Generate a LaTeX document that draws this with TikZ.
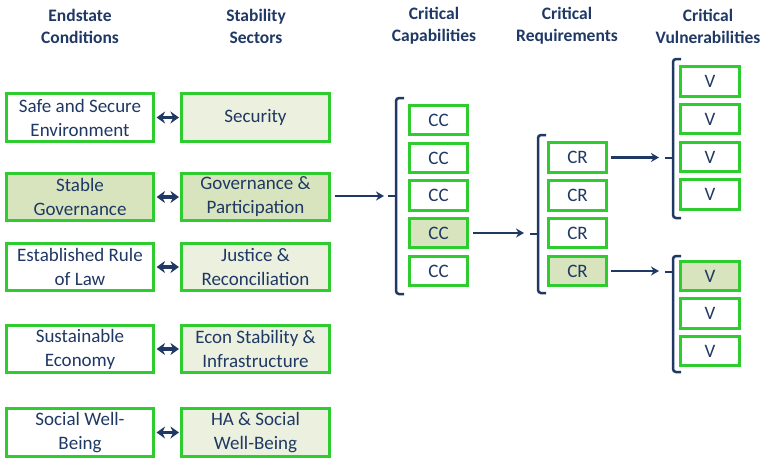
\documentclass[tikz,border=0pt]{standalone}
\usepackage{fontspec}
\setmainfont{Carlito}
\usetikzlibrary{arrows.meta}
\definecolor{navy}{HTML}{1F3864}
\definecolor{bgreen}{HTML}{2ECC2E}
\definecolor{lfill}{HTML}{EBF1DE}
\definecolor{dfill}{HTML}{D7E4BD}
\begin{document}
\begin{tikzpicture}[x=1pt,y=-1pt,
 box/.style={draw=bgreen, line width=2.6pt, fill=white, text=navy, font=\fontsize{19}{24}\selectfont, align=center, inner sep=0pt},
 wide/.style={box, minimum width=147.5pt, minimum height=47.5pt},
 small/.style={box, minimum width=58.5pt, minimum height=29.5pt},
 hdr/.style={text=navy, font=\bfseries\fontsize{17.5}{22}\selectfont, align=center},
 dbl/.style={draw=navy, line width=3.4pt, shorten <=1.5pt, shorten >=1.5pt, {Stealth[length=8.5pt,width=12pt]}-{Stealth[length=8.5pt,width=12pt]}},
 arr/.style={draw=navy, line width=2.5pt, -{Stealth[length=8pt,width=9pt]}},
 brk/.style={draw=navy, line width=2.5pt, rounded corners=3pt}]
\useasboundingbox (0,0) rectangle (763,459);
% headers
\node[hdr] (h1) at (80,26) {Endstate\\Conditions};
\node[hdr] (h2) at (256,26) {Stability\\Sectors};
\node[hdr] (h3) at (434,26) {Critical\\Capabilities};
\node[hdr] (h4) at (567,26) {Critical\\Requirements};
\node[hdr] (h5) at (708,26) {Critical\\Vulnerabilities};
% endstate conditions
\node[wide] (e1) at (80,117.5) {Safe and Secure\\Environment};
\node[wide, fill=dfill] (e2) at (80,197) {Stable\\Governance};
\node[wide] (e3) at (80,267) {Established Rule\\of Law};
\node[wide] (e4) at (80,349) {Sustainable\\Economy};
\node[wide] (e5) at (80,432.5) {Social Well-\\Being};
% stability sectors
\node[wide, fill=lfill] (s1) at (255.5,117.5) {Security};
\node[wide, fill=dfill] (s2) at (255.5,197) {Governance \&\\Participation};
\node[wide, fill=lfill] (s3) at (255.5,267) {Justice \&\\Reconciliation};
\node[wide, fill=lfill] (s4) at (255.5,349) {Econ Stability \&\\Infrastructure};
\node[wide, fill=lfill] (s5) at (255.5,432.5) {HA \& Social\\Well-Being};
\foreach \i in {1,...,5} \draw[dbl] (e\i.east) -- (s\i.west);
% critical capabilities
\node[small] (cc1) at (438.5,120) {CC};
\node[small] (cc2) at (438.5,158) {CC};
\node[small] (cc3) at (438.5,195.5) {CC};
\node[small, fill=dfill] (cc4) at (438.5,233) {CC};
\node[small] (cc5) at (438.5,271) {CC};
% critical requirements
\node[small] (cr1) at (577.5,157.5) {CR};
\node[small] (cr2) at (577.5,195.5) {CR};
\node[small] (cr3) at (577.5,233) {CR};
\node[small, fill=dfill] (cr4) at (577.5,271) {CR};
% vulnerabilities upper
\node[small] (v1) at (710,81.5) {V};
\node[small] (v2) at (710,119) {V};
\node[small] (v3) at (710,157) {V};
\node[small] (v4) at (710,194.5) {V};
% vulnerabilities lower
\node[small, fill=dfill] (v5) at (710,276) {V};
\node[small] (v6) at (710,313.5) {V};
\node[small] (v7) at (710,351) {V};
% brackets
\draw[brk] (404,98) -- (396,98) -- (396,294) -- (404,294);
\draw[brk] (396,196) -- (388,196);
\draw[brk] (546,135) -- (538,135) -- (538,293) -- (546,293);
\draw[brk] (538,234) -- (530,234);
\draw[brk] (681,59) -- (673,59) -- (673,218) -- (681,218);
\draw[brk] (673,158) -- (665,158);
\draw[brk] (681,256) -- (673,256) -- (673,372) -- (681,372);
\draw[brk] (673,272) -- (665,272);
% arrow targets
\coordinate (tcc) at (384,196);
\coordinate (tcr) at (524,233);
\coordinate (tv1) at (659,157.5);
\coordinate (tv2) at (659,271);
\draw[arr, shorten <=4pt] (s2.east |- tcc) -- (tcc);
\draw[arr, shorten <=4pt] (cc4.east) -- (tcr);
\draw[arr, shorten <=3pt] (cr1.east) -- (tv1);
\draw[arr, shorten <=3pt] (cr4.east) -- (tv2);
\end{tikzpicture}
\end{document}
